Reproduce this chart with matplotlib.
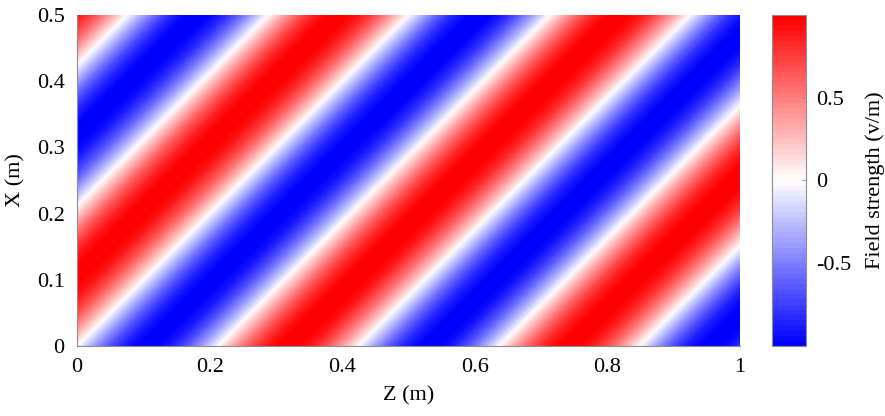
import numpy as np
import matplotlib
matplotlib.use("Agg")
import matplotlib.pyplot as plt
from matplotlib.colors import LinearSegmentedColormap

# ---- data parameters (plane wave) ----
wavelength = 0.3          # m
angle_deg = 45.0          # propagation angle
phase = np.pi / 2
z_range = [0.0, 1.0]
x_range = [0.0, 0.5]
n_z, n_x = 600, 300
x_ticks = [0, 0.2, 0.4, 0.6, 0.8, 1]
x_ticklabels = ["0", "0.2", "0.4", "0.6", "0.8", "1"]
y_ticks = [0, 0.1, 0.2, 0.3, 0.4, 0.5]
y_ticklabels = ["0", "0.1", "0.2", "0.3", "0.4", "0.5"]
cb_ticks = [-0.5, 0, 0.5]
cb_ticklabels = ["-0.5", "0", "0.5"]

k = 2 * np.pi / wavelength
kz = k * np.cos(np.deg2rad(angle_deg))
kx = k * np.sin(np.deg2rad(angle_deg))
z = np.linspace(*z_range, n_z)
x = np.linspace(*x_range, n_x)
Z, X = np.meshgrid(z, x)
E = np.cos(kz * Z - kx * X + phase)

plt.rcParams['font.family'] = ['Liberation Serif', 'DejaVu Serif']
plt.rcParams['font.size'] = 16

cmap = LinearSegmentedColormap.from_list("bwr64", [(0, 0, 1), (1, 1, 1), (1, 0, 0)], N=64)

fig = plt.figure(figsize=(8.85, 4.16), dpi=100)
W, H = 885, 416
ax = fig.add_axes([77 / W, 1 - 346 / H, (740 - 77) / W, (346 - 15) / H])
mesh = ax.pcolormesh(Z, X, E, cmap=cmap, shading='gouraud', vmin=E.min(), vmax=E.max())
ax.set_xlim(*z_range)
ax.set_ylim(*x_range)
ax.set_xticks(x_ticks)
ax.set_xticklabels(x_ticklabels)
ax.set_yticks(y_ticks)
ax.set_yticklabels(y_ticklabels)
ax.tick_params(length=0, pad=9)
for s in ['top', 'right']:
    ax.spines[s].set_visible(False)
for s in ['left', 'bottom']:
    ax.spines[s].set_color('#8c8c8c')
    ax.spines[s].set_linewidth(0.8)
ax.set_xlabel("Z (m)", labelpad=6)
ax.set_ylabel("X (m)", labelpad=8)

cax = fig.add_axes([772 / W, 1 - 346 / H, (806 - 772) / W, (346 - 15) / H])
cb = fig.colorbar(mesh, cax=cax)
cb.set_ticks(cb_ticks)
cb.set_ticklabels(cb_ticklabels)
cb.outline.set_edgecolor('#8c8c8c')
cb.outline.set_linewidth(0.8)
cax.tick_params(direction='in', length=3, width=0.6, color='#8c8c8c', pad=7)
cb.set_label("Field strength (v/m)", labelpad=10)

fig.savefig("out.png", dpi=100)
